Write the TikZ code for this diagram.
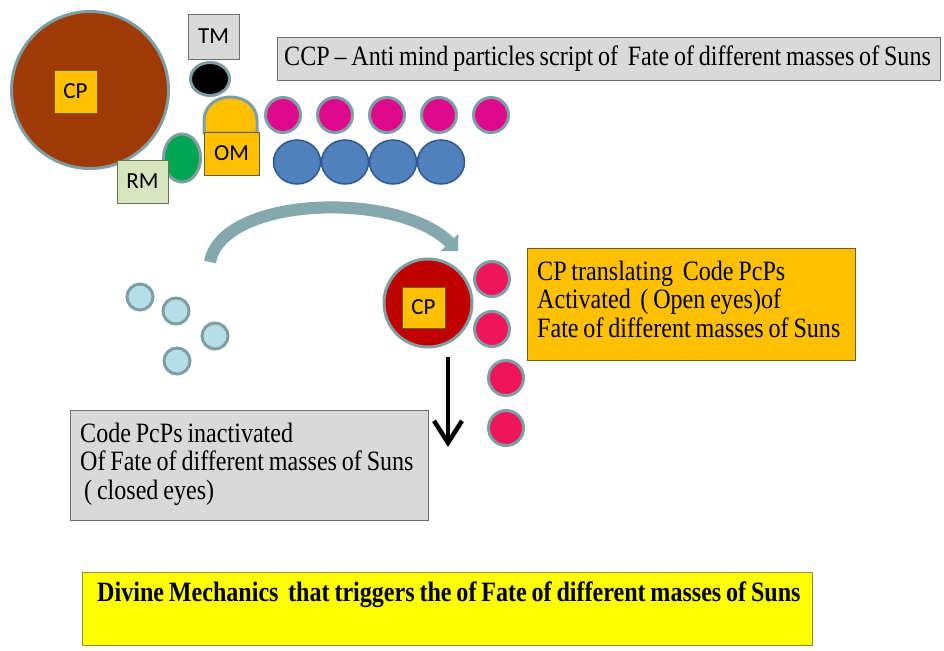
\documentclass[tikz,border=0pt]{standalone}
\usepackage{fontspec}
\setmainfont{Liberation Serif}[FakeStretch=0.86,WordSpace=0.8]
\setsansfont{Carlito}
\usetikzlibrary{shapes.geometric,arrows.meta}
\definecolor{haloc}{RGB}{126,158,164}
\definecolor{brownc}{RGB}{160,58,4}
\definecolor{orangec}{RGB}{255,192,0}
\definecolor{orangeedge}{RGB}{110,92,40}
\definecolor{grayc}{RGB}{217,217,217}
\definecolor{grayedge}{RGB}{110,110,110}
\definecolor{rmc}{RGB}{215,228,189}
\definecolor{rmedge}{RGB}{100,115,80}
\definecolor{greenc}{RGB}{0,166,81}
\definecolor{magc}{RGB}{222,8,140}
\definecolor{bluec}{RGB}{79,129,189}
\definecolor{blueedge}{RGB}{52,88,135}
\definecolor{redc}{RGB}{192,0,0}
\definecolor{pinkc}{RGB}{240,20,90}
\definecolor{lbluec}{RGB}{183,222,232}
\definecolor{arrowc}{RGB}{132,168,174}
\definecolor{yellowc}{RGB}{255,255,0}
\definecolor{yellowedge}{RGB}{140,140,60}
\begin{document}
\begin{tikzpicture}[x=1pt,y=-1pt,
  halo/.style={draw=haloc,line width=3pt},
  ball/.style={circle,halo,inner sep=0pt,minimum size=#1},
  oval/.style={ellipse,halo,inner sep=0pt},
  tag/.style={draw=#1,line width=0.8pt,inner sep=0pt,font=\sffamily\fontsize{23}{25}\selectfont},
  panel/.style={draw=#1,line width=1pt,anchor=north west,inner sep=0pt},
  words/.style={anchor=north west,inner sep=0pt,align=left,font=\fontsize{28}{28.7}\selectfont}]
\useasboundingbox[fill=white] (0,0) rectangle (944,650);

% top-left cluster
\node[ball=157pt,fill=brownc] (big) at (90,90) {};
\node[tag=orangeedge,fill=orangec,minimum width=43pt,minimum height=43pt] (cp1) at (75.5,91.5) {CP};
\node[tag=grayedge,fill=grayc,minimum width=51pt,minimum height=45pt] (tm) at (213.5,36.5) {TM};
\node[oval,fill=black,minimum width=39pt,minimum height=33pt] (tmdot) at (210,79) {};
\draw[halo,fill=orangec] (204,133) -- (204,121) .. controls (204,89) and (257,89) .. (257,121) -- (257,133) -- cycle;
\node[tag=orangeedge,fill=orangec,minimum width=55pt,minimum height=43pt] (om) at (231.5,153.5) {OM};
\node[oval,fill=greenc,minimum width=37pt,minimum height=48pt] (gdot) at (182,158) {};
\node[tag=rmedge,fill=rmc,minimum width=51pt,minimum height=43pt] (rm) at (142.5,181.5) {RM};

% CCP label
\node[panel=grayedge,fill=grayc,minimum width=663pt,minimum height=43pt] (ccp) at (277,37) {};
\node[anchor=west,inner sep=0pt,font=\fontsize{28}{29}\selectfont] (ccptext) at (284,58.5)
  {CCP – Anti mind particles script of~ Fate of different masses of Suns};

% magenta row
\foreach \i/\x in {1/283,2/335,3/387,4/439,5/491}
  \node[ball=35pt,fill=magc] (m\i) at (\x,115) {};
% blue row
\foreach \i/\x in {1/297,2/345,3/393,4/441}
  \node[ellipse,draw=blueedge,line width=1.5pt,fill=bluec,inner sep=0pt,minimum width=47pt,minimum height=44pt] (b\i) at (\x,162) {};

% light blue particles
\node[ball=26pt,fill=lbluec] (l1) at (140,297) {};
\node[ball=26pt,fill=lbluec] (l2) at (176,311) {};
\node[ball=26pt,fill=lbluec] (l3) at (215,336) {};
\node[ball=26pt,fill=lbluec] (l4) at (177,361) {};

% curved arrow
\coordinate (arrS) at (210,262);
\coordinate (arrE) at (458,251);
\draw[line width=12pt,color=arrowc,-{Triangle[length=12pt,width=24pt]}]
  (arrS) .. controls (222,196) and (398,190) .. (arrE);

% red CP
\node[ball=88pt,fill=redc] (red) at (428,303) {};
\node[tag=orangeedge,fill=orangec,minimum width=43pt,minimum height=41pt] (cp2) at (423.5,307.5) {CP};

% pink column
\node[ball=35pt,fill=pinkc] (p1) at (492,279) {};
\node[ball=35pt,fill=pinkc] (p2) at (492,329) {};
\node[ball=35pt,fill=pinkc] (p3) at (506,378) {};
\node[ball=35pt,fill=pinkc] (p4) at (506,428) {};

% orange text box
\node[panel=orangeedge,fill=orangec,minimum width=328pt,minimum height=112pt] (act) at (527,248) {};
\node[words] (acttext) at (537,260.5)
  {CP translating~ Code PcPs\\Activated~ ( Open eyes)of\\Fate of different masses of Suns};

% down arrow
\coordinate (dS) at (448,357);
\coordinate (dE) at (448,447);
\draw[line width=4.5pt,-{Straight Barb[length=22pt,width=28pt]}] (dS) -- (dE);

% gray text box
\node[panel=grayedge,fill=grayc,minimum width=358pt,minimum height=110pt] (inact) at (70,410) {};
\node[words] (inacttext) at (80,422.5)
  {Code PcPs inactivated\\Of Fate of different masses of Suns\\\hspace*{4pt}( closed eyes)};

% yellow box
\node[panel=yellowedge,fill=yellowc,minimum width=730pt,minimum height=73pt] (yel) at (82,572) {};
\node[anchor=north west,inner sep=0pt,font=\bfseries\fontsize{28}{29}\selectfont] (yeltext) at (97,582)
  {Divine Mechanics~ that triggers the of Fate of different masses of Suns};
\end{tikzpicture}
\end{document}
